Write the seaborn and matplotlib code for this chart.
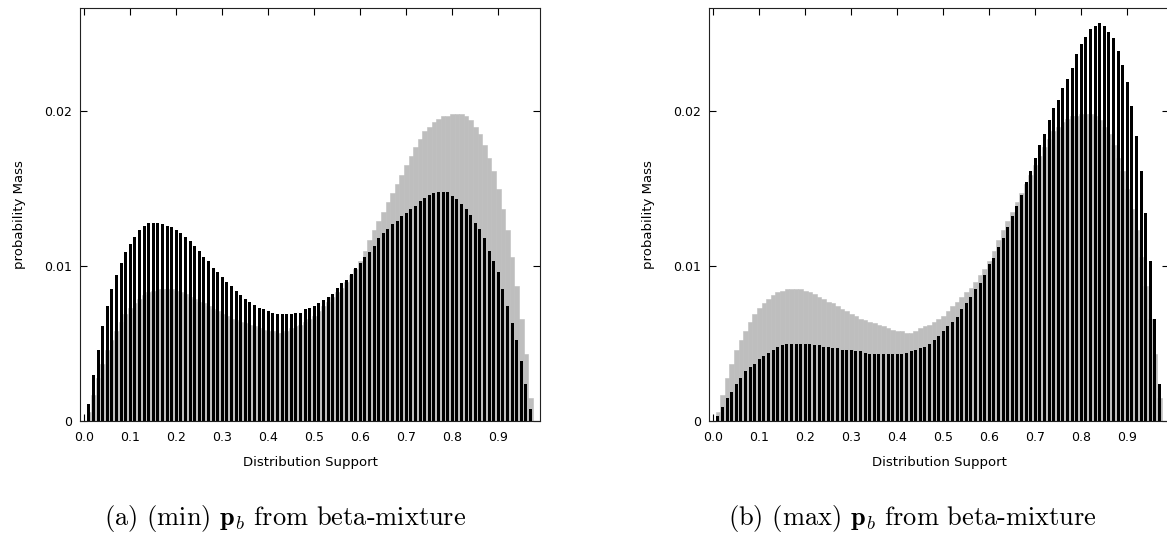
import numpy as np
import pandas as pd
import matplotlib
matplotlib.use('Agg')
import matplotlib.pyplot as plt
import seaborn as sns

# suporte da distribuicao (bins de 0.01)
support = np.arange(1, 98) / 100

# distribuicao alvo (beta-mixture) - barras cinzas
target = [0.0006, 0.0017, 0.0028, 0.0037, 0.0046, 0.0052, 0.0058, 0.0064, 0.0069, 0.0073,
          0.0076, 0.0079, 0.0081, 0.0083, 0.0084, 0.0085, 0.0085, 0.0085, 0.0085, 0.0084,
          0.0083, 0.0082, 0.0080, 0.0079, 0.0077, 0.0076, 0.0074, 0.0072, 0.0071, 0.0069,
          0.0068, 0.0066, 0.0065, 0.0064, 0.0063, 0.0062, 0.0061, 0.0060, 0.0059, 0.0058,
          0.0058, 0.0057, 0.0057, 0.0058, 0.0060, 0.0061, 0.0062, 0.0064, 0.0066, 0.0068,
          0.0071, 0.0074, 0.0077, 0.0080, 0.0083, 0.0086, 0.0090, 0.0094, 0.0098, 0.0103,
          0.0110, 0.0117, 0.0123, 0.0129, 0.0135, 0.0141, 0.0147, 0.0153, 0.0159, 0.0165,
          0.0171, 0.0177, 0.0182, 0.0187, 0.0190, 0.0193, 0.0195, 0.0197, 0.0197, 0.0198,
          0.0198, 0.0198, 0.0197, 0.0194, 0.0190, 0.0185, 0.0178, 0.0170, 0.0161, 0.0150,
          0.0137, 0.0123, 0.0106, 0.0087, 0.0066, 0.0043, 0.0015]

# (min) p_b - barras pretas do painel (a)
pb_min = [0.0011, 0.0030, 0.0046, 0.0061, 0.0074, 0.0085, 0.0094, 0.0102, 0.0109, 0.0114,
          0.0119, 0.0123, 0.0126, 0.0128, 0.0128, 0.0128, 0.0127, 0.0126, 0.0125, 0.0123,
          0.0121, 0.0119, 0.0116, 0.0113, 0.0110, 0.0106, 0.0103, 0.0099, 0.0096, 0.0093,
          0.0090, 0.0087, 0.0084, 0.0081, 0.0079, 0.0077, 0.0075, 0.0073, 0.0072, 0.0071,
          0.0070, 0.0069, 0.0069, 0.0069, 0.0069, 0.0070, 0.0070, 0.0072, 0.0073, 0.0074,
          0.0076, 0.0078, 0.0080, 0.0082, 0.0086, 0.0089, 0.0091, 0.0095, 0.0099, 0.0102,
          0.0106, 0.0109, 0.0113, 0.0118, 0.0121, 0.0124, 0.0127, 0.0129, 0.0132, 0.0134,
          0.0137, 0.0139, 0.0142, 0.0144, 0.0146, 0.0147, 0.0148, 0.0148, 0.0148, 0.0145,
          0.0143, 0.0140, 0.0137, 0.0133, 0.0128, 0.0124, 0.0118, 0.0110, 0.0103, 0.0096,
          0.0085, 0.0074, 0.0063, 0.0052, 0.0039, 0.0024, 0.0008]

# (max) p_b - barras pretas do painel (b)
pb_max = [0.0003, 0.0009, 0.0015, 0.0019, 0.0024, 0.0028, 0.0032, 0.0035, 0.0037, 0.0040,
          0.0042, 0.0044, 0.0046, 0.0048, 0.0049, 0.0050, 0.0050, 0.0050, 0.0050, 0.0050,
          0.0050, 0.0049, 0.0049, 0.0048, 0.0048, 0.0047, 0.0047, 0.0046, 0.0046, 0.0046,
          0.0045, 0.0045, 0.0044, 0.0043, 0.0043, 0.0043, 0.0043, 0.0043, 0.0043, 0.0043,
          0.0043, 0.0044, 0.0045, 0.0046, 0.0047, 0.0048, 0.0050, 0.0052, 0.0055, 0.0058,
          0.0061, 0.0064, 0.0067, 0.0072, 0.0076, 0.0080, 0.0085, 0.0089, 0.0094, 0.0101,
          0.0105, 0.0112, 0.0118, 0.0125, 0.0132, 0.0139, 0.0146, 0.0154, 0.0161, 0.0170,
          0.0178, 0.0185, 0.0194, 0.0202, 0.0207, 0.0215, 0.0221, 0.0228, 0.0237, 0.0243,
          0.0248, 0.0253, 0.0255, 0.0257, 0.0255, 0.0251, 0.0247, 0.0239, 0.0230, 0.0219,
          0.0203, 0.0184, 0.0161, 0.0134, 0.0103, 0.0066, 0.0024]

xticks = [0.0, 0.1, 0.2, 0.3, 0.4, 0.5, 0.6, 0.7, 0.8, 0.9]
yticks = [0, 0.01, 0.02]
ytick_labels = ['0', '0.01', '0.02']
captions = ['(a) (min) $\\mathbf{p}_b$ from beta-mixture',
            '(b) (max) $\\mathbf{p}_b$ from beta-mixture']

plt.rcParams['font.family'] = ['DejaVu Sans']
plt.rcParams['mathtext.fontset'] = 'cm'

fig = plt.figure(figsize=(11.67, 5.46), dpi=100)
ax1 = fig.add_axes([0.06855, 0.22894, 0.39417, 0.75641])
ax2 = fig.add_axes([0.60754, 0.22894, 0.39417, 0.75641])

for ax, serie, cap, capx in [(ax1, pb_min, captions[0], 285), (ax2, pb_max, captions[1], 912)]:
    df = pd.DataFrame({'suporte': support, 'alvo': target, 'pb': serie})
    # cinza atras, preto na frente
    sns.barplot(data=df, x='suporte', y='alvo', native_scale=True, orient='x', width=1,
                color='#bebebe', saturation=1, edgecolor='#bebebe', linewidth=0.4,
                errorbar=None, ax=ax)
    sns.barplot(data=df, x='suporte', y='pb', native_scale=True, orient='x', width=0.64,
                color='black', saturation=1, linewidth=0, errorbar=None, ax=ax)

    ax.set_xlim(-0.0093, 0.9907)
    ax.set_ylim(0, 0.02665)
    ax.set_xticks(xticks)
    ax.set_xticklabels([f'{v:.1f}' for v in xticks])
    ax.set_yticks(yticks)
    ax.set_yticklabels(ytick_labels)
    ax.tick_params(direction='in', length=5, width=0.8, top=True, right=True,
                   labelsize=9, colors='black')
    ax.tick_params(axis='x', pad=7)
    ax.tick_params(axis='y', pad=6)
    for s in ax.spines.values():
        s.set_linewidth(0.8)
        s.set_color('#222222')
    ax.set_xlabel('Distribution Support', fontsize=9.5, labelpad=9)
    ax.set_ylabel('probability Mass', fontsize=9.5, labelpad=13)

    fig.text(capx / 1167, 1 - 518 / 546, cap, family='cmr10', fontsize=19,
             ha='center', va='center')

plt.savefig('out.png', dpi=100)
